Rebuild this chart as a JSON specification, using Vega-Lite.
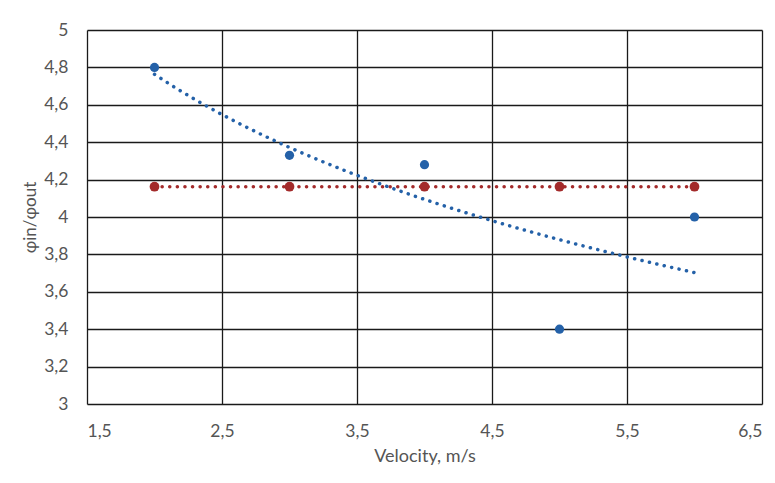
{
  "$schema": "https://vega.github.io/schema/vega-lite/v6.json",
  "width": 675,
  "height": 374,
  "autosize": {"type": "none"},
  "padding": {"left": 87, "top": 30, "right": 13, "bottom": 79},
  "background": "white",
  "config": {
    "locale": {"number": {"decimal": ",", "thousands": ".", "grouping": [3], "currency": ["", ""]}},
    "view": {"stroke": null},
    "font": "Lato",
    "axis": {
      "grid": true, "gridColor": "#1a1a1a", "gridWidth": 1.3, "gridOpacity": 1,
      "domain": false, "ticks": false, "labelOverlap": false,
      "labelFont": "Lato", "labelFontSize": 17.5, "labelColor": "#555555",
      "titleFont": "Lato", "titleFontSize": 18, "titleColor": "#555555", "titleFontWeight": "normal"
    }
  },
  "datasets": {
    "pts": [
      {"v": 2, "phi": 4.8},
      {"v": 3, "phi": 4.33},
      {"v": 4, "phi": 4.28},
      {"v": 5, "phi": 3.4},
      {"v": 6, "phi": 4.0}
    ],
    "avg": [
      {"v": 2, "phi": 4.162},
      {"v": 3, "phi": 4.162},
      {"v": 4, "phi": 4.162},
      {"v": 5, "phi": 4.162},
      {"v": 6, "phi": 4.162}
    ]
  },
  "encoding": {
    "x": {"field": "v", "type": "quantitative", "scale": {"domain": [1.5, 6.5], "nice": false},
      "axis": {"values": [1.5, 2.5, 3.5, 4.5, 5.5, 6.5], "tickCount": 20, "title": "Velocity, m/s", "labelPadding": 18, "titlePadding": 8, "format": ".1f"}},
    "y": {"field": "phi", "type": "quantitative", "scale": {"domain": [3, 5], "nice": false, "zero": false},
      "axis": {"tickCount": 20, "values": [3, 3.2, 3.4, 3.6, 3.8, 4, 4.2, 4.4, 4.6, 4.8, 5], "labelOverlap": false, "format": "~g", "title": "φin/φout", "titleFontSize": 17, "labelPadding": 19, "titleX": -57, "titleY": 187, "titleAngle": -90, "titleAlign": "center", "titleBaseline": "middle"}}
  },
  "layer": [
    {
      "data": {"name": "avg"},
      "mark": {"type": "line", "color": "#A32A2A", "strokeWidth": 3.5, "strokeDash": [0.1, 7.5], "strokeCap": "round"}
    },
    {
      "data": {"name": "avg"},
      "mark": {"type": "circle", "color": "#A32A2A", "opacity": 1, "size": 95}
    },
    {
      "data": {"name": "pts"},
      "transform": [{"regression": "phi", "on": "v", "method": "log", "extent": [2, 6]}],
      "mark": {"type": "line", "color": "#2461A8", "strokeWidth": 3.5, "strokeDash": [0.1, 7.5], "strokeCap": "round"}
    },
    {
      "data": {"name": "pts"},
      "mark": {"type": "circle", "color": "#2461A8", "opacity": 1, "size": 85}
    }
  ]
}
